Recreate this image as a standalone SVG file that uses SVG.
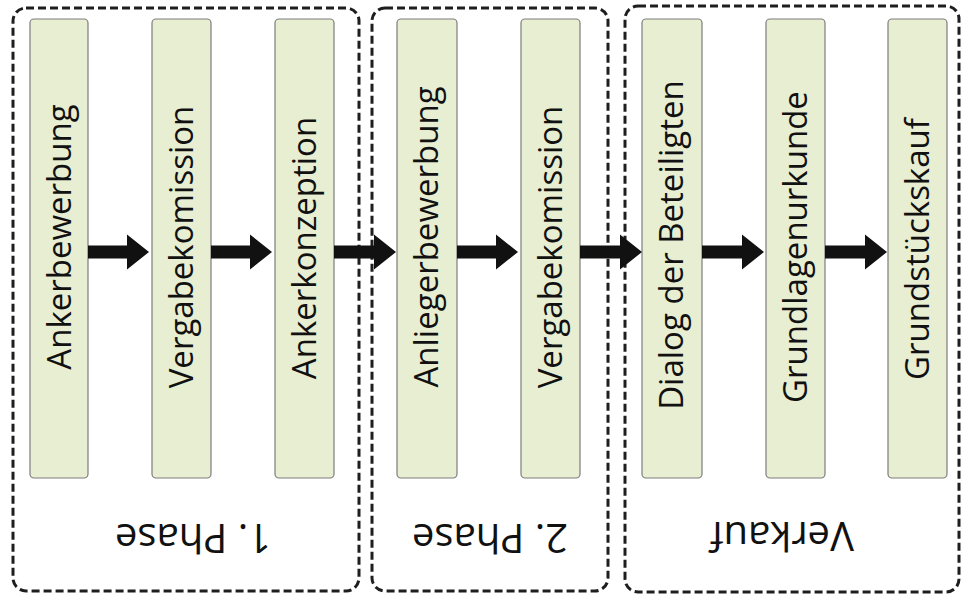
<svg xmlns="http://www.w3.org/2000/svg" width="961" height="596" viewBox="0 0 961 596">
  <style>
    .phase { fill: none; stroke: #1e1e1e; stroke-width: 3; stroke-dasharray: 8 4; }
    .box { fill: #e8eed2; stroke: #7d7d7d; stroke-width: 1.2; }
    .lbl { font-family: "Open Sans", "Noto Sans", sans-serif; font-size: 33px; font-weight: 500; fill: #111; text-anchor: middle; }
    .ttl { font-family: "Open Sans", "Noto Sans", sans-serif; font-size: 40px; font-weight: 500; fill: #111; text-anchor: middle; }
    .arrow { fill: #111; }
  </style>

  <!-- phase frames -->
  <g id="phase1">
    <rect class="phase" x="13" y="8" width="346" height="583" rx="13"/>
    <text class="ttl" transform="translate(193 524) rotate(180)">1. Phase</text>
  </g>
  <g id="phase2">
    <rect class="phase" x="372" y="8" width="236" height="583" rx="13"/>
    <text class="ttl" transform="translate(490 524) rotate(180)">2. Phase</text>
  </g>
  <g id="verkauf">
    <rect class="phase" x="625" y="6" width="334" height="586" rx="13"/>
    <text class="ttl" transform="translate(782 522) rotate(180)">Verkauf</text>
  </g>

  <!-- steps -->
  <g id="step1">
    <rect class="box" x="30" y="19" width="58" height="459" rx="4"/>
    <text class="lbl" transform="translate(71 237) rotate(-90)">Ankerbewerbung</text>
  </g>
  <g id="step2">
    <rect class="box" x="152" y="19" width="59" height="459" rx="4"/>
    <text class="lbl" transform="translate(193 247) rotate(-90)">Vergabekomission</text>
  </g>
  <g id="step3">
    <rect class="box" x="275" y="19" width="59" height="459" rx="4"/>
    <text class="lbl" transform="translate(316 248) rotate(-90)">Ankerkonzeption</text>
  </g>
  <g id="step4">
    <rect class="box" x="397" y="19" width="60" height="459" rx="4"/>
    <text class="lbl" transform="translate(438 237) rotate(-90)">Anliegerbewerbung</text>
  </g>
  <g id="step5">
    <rect class="box" x="521" y="19" width="59" height="459" rx="4"/>
    <text class="lbl" transform="translate(562 247) rotate(-90)">Vergabekomission</text>
  </g>
  <g id="step6">
    <rect class="box" x="642" y="19" width="60" height="459" rx="4"/>
    <text class="lbl" transform="translate(683 245) rotate(-90)">Dialog der Beteiligten</text>
  </g>
  <g id="step7">
    <rect class="box" x="766" y="19" width="59" height="459" rx="4"/>
    <text class="lbl" transform="translate(807 247) rotate(-90)">Grundlagenurkunde</text>
  </g>
  <g id="step8">
    <rect class="box" x="888" y="19" width="59" height="459" rx="4"/>
    <text class="lbl" transform="translate(929 249) rotate(-90)">Grundstückskauf</text>
  </g>

  <!-- connectors -->
  <g id="connectors" class="arrow">
    <path d="M88 245.5H127V234.5L149 252L127 269.5V258.5H88Z"/>
    <path d="M211 245.5H250V234.5L272 252L250 269.5V258.5H211Z"/>
    <path d="M334 245.5H374V234.5L396 252L374 269.5V258.5H334Z"/>
    <path d="M457 245.5H496V234.5L518 252L496 269.5V258.5H457Z"/>
    <path d="M580 245.5H620V234.5L642 252L620 269.5V258.5H580Z"/>
    <path d="M702 245.5H742V234.5L764 252L742 269.5V258.5H702Z"/>
    <path d="M825 245.5H865V234.5L887 252L865 269.5V258.5H825Z"/>
  </g>
</svg>
